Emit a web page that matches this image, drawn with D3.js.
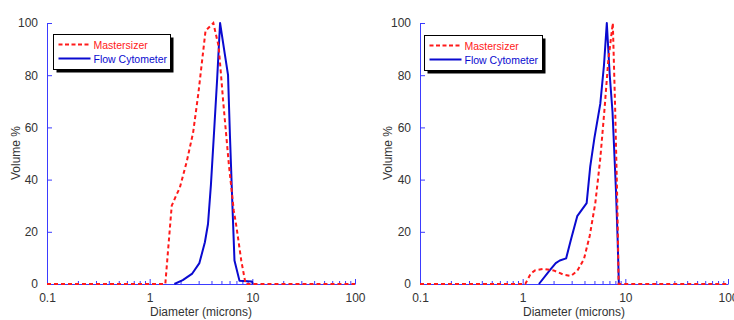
<!DOCTYPE html>
<html>
<head>
<meta charset="utf-8">
<script src="https://cdn.jsdelivr.net/npm/d3@7"></script>
<style>
  html, body { margin: 0; padding: 0; background: #fff; }
  svg { display: block; font-family: "Liberation Sans", Arial, sans-serif; }
</style>
</head>
<body>
<svg id="chart" width="734" height="320"></svg>
<script>
// ---- data (diameter in microns, volume %) ----
const xMajorTicks = [0.1, 1, 10, 100];
const xMinorTicks = [0.2,0.3,0.4,0.5,0.6,0.7,0.8,0.9, 2,3,4,5,6,7,8,9, 20,30,40,50,60,70,80,90];
const yTicks = [0, 20, 40, 60, 80, 100];
const seriesNames = ["Mastersizer", "Flow Cytometer"];

const leftMastersizer = [
  [0.1,0],[1.0,0],[1.42,0],[1.64,30],[1.77,33],[1.97,37],[2.3,47],[2.65,58],[2.98,73],
  [3.5,97],[4.17,100],[4.7,91],[5.2,70],[5.9,46],[6.6,28],[7.0,22],[7.8,9],[8.6,0],[100,0]
];
const leftFlowCytometer = [
  [1.74,0],[2.1,1.5],[2.6,4],[3.05,8],[3.45,16],[3.7,23],[3.95,38],[4.25,59],[4.55,79],
  [4.85,100],[5.4,88],[5.8,80],[6.05,57],[6.4,30],[6.7,9],[7.5,1.2],[9.9,1],[10.1,0]
];
const rightMastersizer = [
  [0.1,0],[1.06,0],[1.2,4],[1.33,5.3],[1.6,5.8],[2.0,5.2],[2.5,3.6],[2.95,3.1],[3.4,5],
  [3.95,9.5],[4.5,18.5],[5.1,31],[5.7,48],[6.3,68],[6.8,85],[7.55,100],[7.95,68],[8.3,36],
  [8.45,20],[8.6,0],[100,0]
];
const rightFlowCytometer = [
  [1.44,0],[1.85,5.4],[2.1,8],[2.3,9],[2.65,9.8],[2.95,17],[3.4,26],[4.2,31],[4.55,45],
  [5.0,56],[5.7,69],[6.2,84],[6.6,100],[7.05,80],[7.5,66],[7.9,46],[8.1,36],[8.4,18],[8.65,0]
];

// ---- styles ----
const axisColor = "#3b3bff";
const textColor = "#333";
const redColor = "#ff1a1a";
const blueColor = "#0a0ad0";

const svg = d3.select("#chart");

function drawPanel(cfg) {
  const x = d3.scaleLog().domain([0.1, 100]).range([cfg.x0, cfg.x1]);
  const y = d3.scaleLinear().domain([0, 100]).range([284, 23]);
  const g = svg.append("g");

  // minor x ticks
  const minor = g.append("g").attr("transform", `translate(0,${y(0)})`)
    .call(d3.axisBottom(x).tickValues(xMinorTicks).tickSize(-3).tickSizeOuter(0).tickFormat(""));
  minor.select(".domain").remove();
  minor.selectAll("line").attr("stroke", axisColor);

  // major x ticks + labels
  const xa = g.append("g").attr("transform", `translate(0,${y(0)})`)
    .call(d3.axisBottom(x).tickValues(xMajorTicks).tickSize(-5).tickSizeOuter(0)
      .tickPadding(9).tickFormat(d => String(d)));
  xa.select(".domain").attr("stroke", axisColor);
  xa.selectAll("line").attr("stroke", axisColor);
  xa.selectAll("text").attr("fill", textColor).style("font-size", "12px")
    .style("font-family", "Liberation Sans, Arial, sans-serif");

  // y axis
  const ya = g.append("g").attr("transform", `translate(${cfg.x0},0)`)
    .call(d3.axisLeft(y).tickValues(yTicks).tickSize(-5).tickSizeOuter(0).tickPadding(9));
  ya.select(".domain").attr("stroke", axisColor);
  ya.selectAll("line").attr("stroke", axisColor);
  ya.selectAll("text").attr("fill", textColor).style("font-size", "12px")
    .style("font-family", "Liberation Sans, Arial, sans-serif");

  // axis titles
  g.append("text").attr("x", (cfg.x0 + cfg.x1) / 2 + cfg.xTitleShift).attr("y", 316)
    .attr("text-anchor", "middle").attr("fill", textColor).style("font-size", "12px")
    .text("Diameter (microns)");
  g.append("text")
    .attr("transform", `translate(${cfg.yTitleX},153) rotate(-90)`)
    .attr("text-anchor", "middle").attr("fill", textColor).style("font-size", "12px")
    .text("Volume %");

  const line = d3.line().x(d => x(d[0])).y(d => y(d[1]));

  g.append("path").datum(cfg.flow).attr("d", line)
    .attr("fill", "none").attr("stroke", blueColor).attr("stroke-width", 2)
    .attr("stroke-linejoin", "round");
  g.append("path").datum(cfg.master).attr("d", line)
    .attr("fill", "none").attr("stroke", redColor).attr("stroke-width", 2)
    .attr("stroke-dasharray", "4,3");

  // legend
  const L = cfg.legend;
  g.append("rect").attr("x", L.x + 3).attr("y", L.y + 3).attr("width", L.w).attr("height", L.h)
    .attr("fill", "#000");
  g.append("rect").attr("x", L.x).attr("y", L.y).attr("width", L.w).attr("height", L.h)
    .attr("fill", "#fff").attr("stroke", "#000").attr("stroke-width", 1);
  const items = [
    {name: seriesNames[0], color: redColor, dash: "4,2.5"},
    {name: seriesNames[1], color: blueColor, dash: null}
  ];
  items.forEach((it, i) => {
    const ly = L.y + 10 + i * 14;
    g.append("line").attr("x1", L.x + 5).attr("x2", L.x + 37).attr("y1", ly).attr("y2", ly)
      .attr("stroke", it.color).attr("stroke-width", 2)
      .attr("stroke-dasharray", it.dash);
    g.append("text").attr("x", L.x + 40).attr("y", ly + 4)
      .attr("fill", it.color).style("font-size", "10.5px").text(it.name);
  });
}

drawPanel({
  x0: 47, x1: 355, xTitleShift: 0, yTitleX: 20,
  master: leftMastersizer, flow: leftFlowCytometer,
  legend: {x: 53.5, y: 34.5, w: 117, h: 35}
});
drawPanel({
  x0: 420, x1: 728, xTitleShift: 0, yTitleX: 392,
  master: rightMastersizer, flow: rightFlowCytometer,
  legend: {x: 424.5, y: 35.5, w: 118, h: 35}
});
</script>
</body>
</html>
